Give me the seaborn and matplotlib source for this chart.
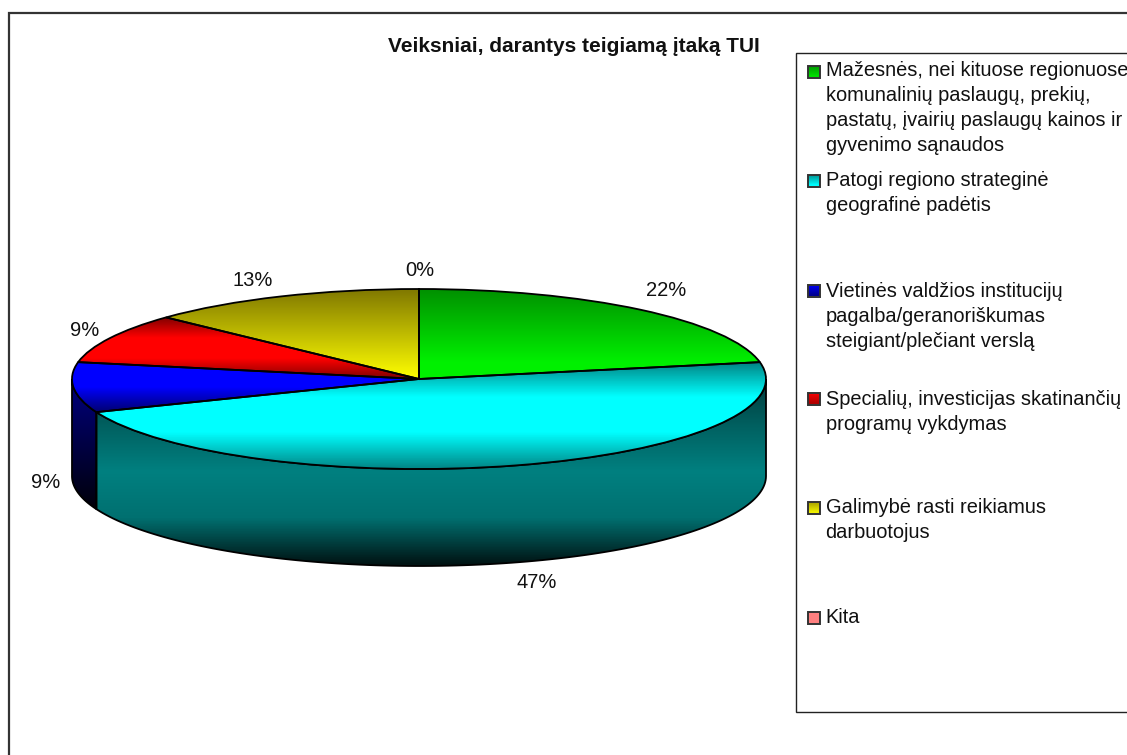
import numpy as np
import seaborn as sns
import matplotlib.pyplot as plt
from matplotlib.patches import Polygon, Rectangle

sns.set_theme(style='white')
plt.rcParams['font.family'] = ['Liberation Sans', 'DejaVu Sans']

title = 'Veiksniai, darantys teigiamą įtaką TUI'
labels = [
    'Mažesnės, nei kituose regionuose\nkomunalinių paslaugų, prekių,\npastatų, įvairių paslaugų kainos ir\ngyvenimo sąnaudos',
    'Patogi regiono strateginė\ngeografinė padėtis',
    'Vietinės valdžios institucijų\npagalba/geranoriškumas\nsteigiant/plečiant verslą',
    'Specialių, investicijas skatinančių\nprogramų vykdymas',
    'Galimybė rasti reikiamus\ndarbuotojus',
    'Kita',
]
values = [22, 47, 9, 9, 13, 0]

# pixel layout of the picture
W, H = 1127, 755
CX, CY, RX, RY, DEPTH = 419, 379, 347, 90, 97

# pixel to axis units, the pie has radius 1 in both directions
def ux(px):
    return (px - CX) / RX

def uy(py):
    return (CY - py) / RY

fig = plt.figure(figsize=(W / 100, H / 100), dpi=100, facecolor='white')
ax = fig.add_axes([0, 0, 1, 1])

wedges, _ = ax.pie(values, center=(0, 0), radius=1, startangle=90, counterclock=False,
                   wedgeprops=dict(facecolor='none', edgecolor='black', linewidth=1.3, zorder=5))


def fill_gradient(patch, stops, top, bottom, zorder):
    # one colour per pixel row, held constant above top and below bottom
    cmap = sns.blend_palette(stops, as_cmap=True)
    rows = np.clip((np.arange(H) + 0.5 - top) / (bottom - top), 0, 1)
    im = ax.imshow(rows[:, None], cmap=cmap, vmin=0, vmax=1, aspect='auto', origin='upper',
                   extent=(ux(0), ux(W), uy(H), uy(0)), zorder=zorder)
    im.set_clip_path(patch)


# gradients of the top faces: stops, first and last pixel row
top_faces = [
    (['#009000', '#00f000'], 289, 362),
    (['#008080', '#00ffff', '#00ffff', '#008888'], 361, 468),
    (['#0000ff', '#0000ff', '#000070'], 362, 412),
    (['#800000', '#ff0000', '#ff0000', '#800000'], 317, 379),
    (['#807800', '#ffff00'], 289, 379),
    (['#ff8080', '#ff8080'], 289, 379),
]
for w, (stops, top, bottom) in zip(wedges, top_faces):
    fill_gradient(w, stops, top, bottom, 4)

# side walls, only the lower half of the ellipse can be seen
side_faces = {
    1: (['#003c3c', '#006060', '#008080', '#007070', '#001414'], 379, 564),
    2: (['#000080', '#000008'], 379, 510),
}
depth = DEPTH / RY
for i, (stops, top, bottom) in side_faces.items():
    t1 = max(wedges[i].theta1, -180)
    t2 = min(wedges[i].theta2, 0)
    t = np.radians(np.linspace(t1, t2, 120))
    upper = np.column_stack([np.cos(t), np.sin(t)])
    lower = upper[::-1] - [0, depth]
    wall = Polygon(np.vstack([upper, lower]), closed=True, facecolor='none',
                   edgecolor='black', linewidth=1.3, zorder=3)
    ax.add_patch(wall)
    fill_gradient(wall, stops, top, bottom, 2)

# percentage labels
label_xy = [(666, 291), (537, 582), (46, 482), (85, 331), (253, 280), (420, 270)]
for v, (x, y) in zip(values, label_xy):
    ax.text(ux(x), uy(y), f'{v}%', ha='center', va='center', fontsize=14.5, color='#111111', zorder=6)

ax.text(ux(573.5), uy(47), title, ha='center', va='center', fontsize=15, fontweight='bold', color='#111111')

# outer frame and legend box run past the edge of the picture
ax.add_patch(Rectangle((ux(9), uy(H + 20)), ux(W + 20) - ux(9), uy(13) - uy(H + 20),
                       facecolor='none', edgecolor='#333333', linewidth=1.6, zorder=1))
ax.add_patch(Rectangle((ux(796), uy(712)), ux(W + 20) - ux(796), uy(53) - uy(712),
                       facecolor='white', edgecolor='#222222', linewidth=1.0, zorder=1))

# legend
text_tops = [61, 171, 282, 390, 498, 608]
swatch_tops = [66, 175, 285, 393, 502, 612]
swatches = [
    ['#009000', '#00e000'],
    ['#008888', '#00ffff'],
    ['#0000ff', '#000090'],
    ['#ff0000', '#b00000'],
    ['#a09800', '#f0f000'],
    ['#ff8080', '#ff8080'],
]
for name, text_top, sw_top, stops in zip(labels, text_tops, swatch_tops, swatches):
    box = Rectangle((ux(807.5), uy(sw_top + 11.5)), ux(819.5) - ux(807.5), uy(sw_top - 0.5) - uy(sw_top + 11.5),
                    facecolor='none', edgecolor='#333333', linewidth=1.4, zorder=5)
    ax.add_patch(box)
    fill_gradient(box, stops, sw_top, sw_top + 11, 4)
    ax.text(ux(825.5), uy(text_top), name, ha='left', va='top', fontsize=14.4, color='#111111',
            linespacing=1.4, zorder=6)

ax.set_xlim(ux(0), ux(W))
ax.set_ylim(uy(H), uy(0))
ax.set_aspect('auto')
ax.axis('off')

plt.savefig('out.png', dpi=100)
